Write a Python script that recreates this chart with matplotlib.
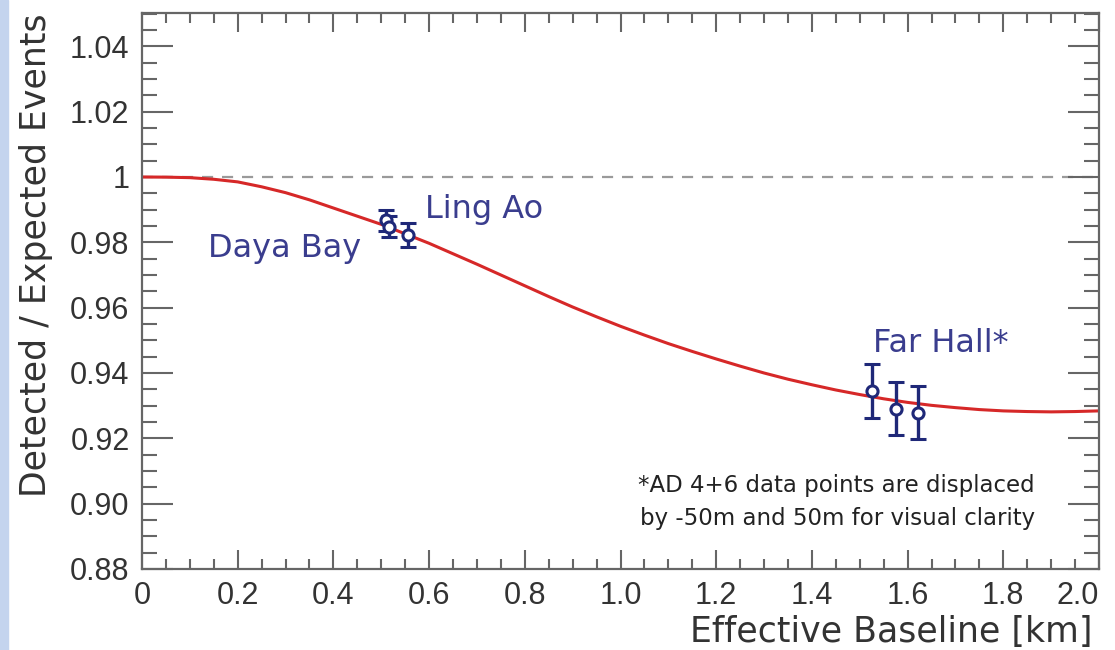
import matplotlib.pyplot as plt
from matplotlib.patches import Rectangle
from matplotlib.ticker import MultipleLocator, FixedFormatter, FixedLocator

# ================================
# DADOS
# ================================
baseline_km = [0.00, 0.05, 0.10, 0.15, 0.20, 0.25, 0.30, 0.35, 0.40, 0.45,
               0.50, 0.55, 0.60, 0.65, 0.70, 0.75, 0.80, 0.85, 0.90, 0.95,
               1.00, 1.05, 1.10, 1.15, 1.20, 1.25, 1.30, 1.35, 1.40, 1.45,
               1.50, 1.55, 1.60, 1.65, 1.70, 1.75, 1.80, 1.85, 1.90, 1.95, 2.00]
survival = [1.0000, 0.99995, 0.9998, 0.9993, 0.9985, 0.9970, 0.9952, 0.9930, 0.9905, 0.9880,
            0.9855, 0.9826, 0.9797, 0.9765, 0.9733, 0.9700, 0.9667, 0.9634, 0.9602, 0.9572,
            0.9543, 0.9516, 0.9490, 0.9466, 0.9443, 0.9421, 0.9400, 0.9381, 0.9364, 0.9348,
            0.9334, 0.9321, 0.9310, 0.9301, 0.9294, 0.9288, 0.9284, 0.9282, 0.9281, 0.9282, 0.9284]

ad_baseline = [0.510, 0.516, 0.556, 1.526, 1.576, 1.622]
ad_ratio = [0.9868, 0.9848, 0.9822, 0.9346, 0.9291, 0.9279]
ad_erro = [0.0032, 0.0032, 0.0037, 0.0083, 0.0082, 0.0081]

rotulos_y = ['0.88', '0.90', '0.92', '0.94', '0.96', '0.98', '1', '1.02', '1.04']
valores_y = [0.88, 0.90, 0.92, 0.94, 0.96, 0.98, 1.00, 1.02, 1.04]
rotulos_x = ['0', '0.2', '0.4', '0.6', '0.8', '1.0', '1.2', '1.4', '1.6', '1.8', '2.0']
valores_x = [0.0, 0.2, 0.4, 0.6, 0.8, 1.0, 1.2, 1.4, 1.6, 1.8, 2.0]

sitios = ['Daya Bay', 'Ling Ao', 'Far Hall*']
sitios_pos = [(0.138, 0.9755), (0.591, 0.9874), (1.528, 0.9464)]
nota = ['*AD 4+6 data points are displaced', 'by -50m and 50m for visual clarity']

# ================================
# GRÁFICO
# ================================
cor_azul = '#1f2878'
cor_texto = '#3a3d8e'
cor_cinza = '#666666'

fig = plt.figure(figsize=(11.15, 6.5), dpi=100)
fig.patches.append(Rectangle((0, 0), 8 / 1115, 1, transform=fig.transFigure,
                             color='#c4d4ee', zorder=0))
ax = fig.add_axes([142 / 1115, 1 - 569 / 650, (1099 - 142) / 1115, (569 - 13) / 650])

ax.axhline(1.0, color='#9a9a9a', lw=1.6, dashes=(5, 4), zorder=1)
ax.plot(baseline_km, survival, color='#d62828', lw=2.2, zorder=2)
ax.errorbar(ad_baseline, ad_ratio, yerr=ad_erro, fmt='o', color=cor_azul,
            mfc='white', mec=cor_azul, ms=8, mew=2.2, elinewidth=2.4,
            capsize=5.5, capthick=2.4, zorder=3)

for nome, (x, y) in zip(sitios, sitios_pos):
    ax.text(x, y, nome, color=cor_texto, fontsize=23, ha='left', va='baseline')

ax.text(1.866, 0.9036, nota[0], fontsize=16.5, color='#222222', ha='right', va='baseline')
ax.text(1.866, 0.8935, nota[1], fontsize=16.5, color='#222222', ha='right', va='baseline')

ax.set_xlim(0, 2.0)
ax.set_ylim(0.88, 1.0502)

ax.xaxis.set_major_locator(FixedLocator(valores_x))
ax.xaxis.set_major_formatter(FixedFormatter(rotulos_x))
ax.xaxis.set_minor_locator(MultipleLocator(0.05))
ax.yaxis.set_major_locator(FixedLocator(valores_y))
ax.yaxis.set_major_formatter(FixedFormatter(rotulos_y))
ax.yaxis.set_minor_locator(MultipleLocator(0.005))

ax.tick_params(axis='both', which='both', direction='in', colors=cor_cinza,
               labelcolor='#333333', width=1.5)
ax.tick_params(axis='x', which='both', top=True, labelsize=22, pad=9)
ax.tick_params(axis='x', which='major', length=14)
ax.tick_params(axis='x', which='minor', length=7.5)
ax.tick_params(axis='y', which='both', right=True, labelsize=22, pad=9)
ax.tick_params(axis='y', which='major', length=22)
ax.tick_params(axis='y', which='minor', length=11)

fig.canvas.draw()
for lbl in ax.get_xticklabels() + ax.get_yticklabels():
    lbl.set_family('Liberation Sans')
# como no ROOT, o último rótulo do eixo x fica dentro da figura
ax.get_xticklabels()[-1].set_horizontalalignment('right')

for sp in ax.spines.values():
    sp.set_color(cor_cinza)
    sp.set_linewidth(1.6)

fig.text(1092 / 1115, 1 - 642 / 650, 'Effective Baseline [km]', fontsize=25,
         color='#333333', ha='right', va='baseline')
fig.text(36 / 1115, 1 - 13 / 650, 'Detected / Expected Events', fontsize=25,
         color='#333333', rotation=90, ha='center', va='top')

fig.savefig('out.png', dpi=100)
